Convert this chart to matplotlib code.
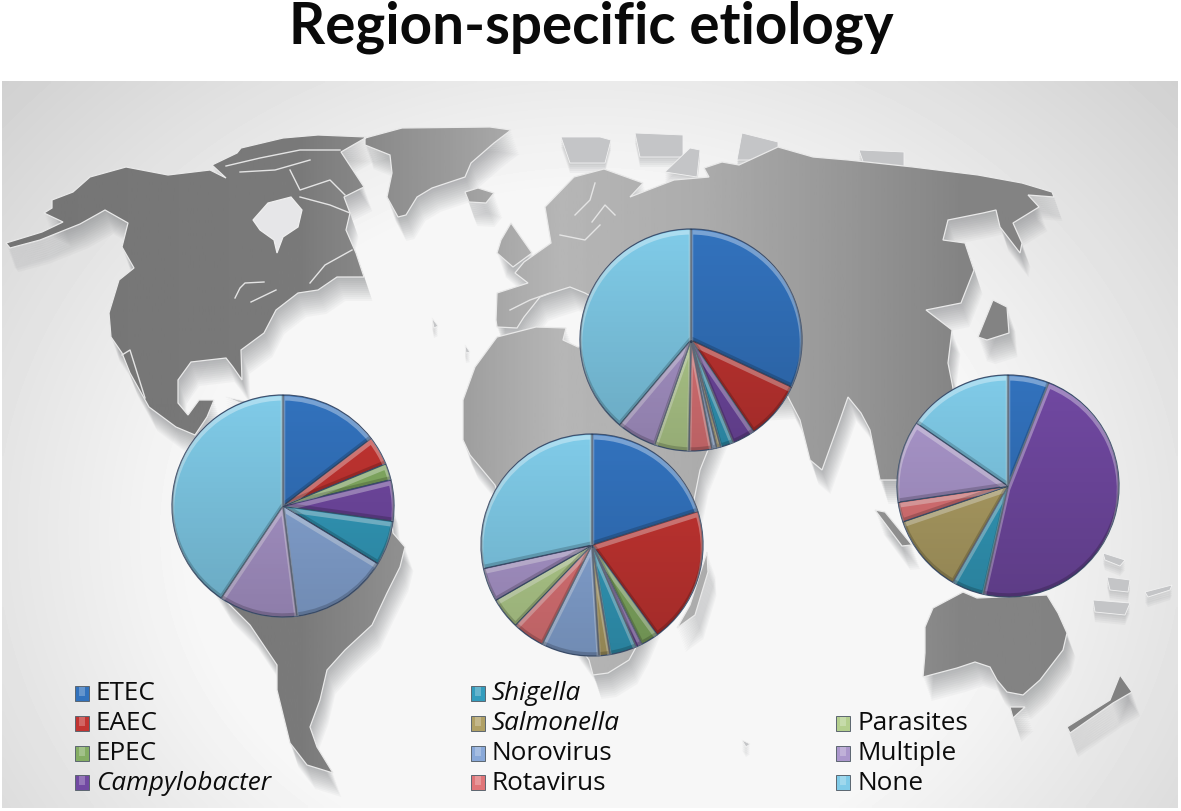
import numpy as np
import matplotlib
matplotlib.use("Agg")
import matplotlib.pyplot as plt
from matplotlib.patches import Wedge, Polygon, Rectangle, Circle, PathPatch
from matplotlib.path import Path

W, H = 1181, 811

categories = ["ETEC", "EAEC", "EPEC", "Campylobacter", "Shigella", "Salmonella",
              "Norovirus", "Rotavirus", "Parasites", "Multiple", "None"]
italic_names = ["Campylobacter", "Shigella", "Salmonella"]
colors = ["#3272bd", "#c23431", "#84ad63", "#7149a2", "#339cbd", "#b0a065",
          "#88a8d8", "#e07578", "#b4cf8e", "#ab97cc", "#80cbe8"]

# percent per region
latin_america = [14.6, 4.2, 2.4, 6.0, 6.5, 0, 14.3, 0, 0, 11.4, 40.6]
africa = [20.1, 19.9, 2.6, 0.9, 3.9, 1.6, 8.4, 4.7, 4.6, 4.9, 28.4]
south_asia = [31.9, 8.5, 0, 3.3, 1.9, 0.6, 0.7, 3.3, 5.0, 5.8, 38.8]
se_asia = [6.0, 0, 0, 47.5, 4.7, 11.5, 0, 2.9, 0, 11.9, 15.4]

pie_values = [latin_america, africa, south_asia, se_asia]
pie_centers = [(283, 506), (592, 545), (691, 340), (1008, 486)]
pie_radius = 111

# legend layout: name -> marker x, row y
legend_col_x = {"ETEC": 75, "EAEC": 75, "EPEC": 75, "Campylobacter": 75,
                "Shigella": 471, "Salmonella": 471, "Norovirus": 471, "Rotavirus": 471,
                "Parasites": 836, "Multiple": 836, "None": 836}
legend_row_y = {"ETEC": 693, "EAEC": 723, "EPEC": 753, "Campylobacter": 782,
                "Shigella": 693, "Salmonella": 723, "Norovirus": 753, "Rotavirus": 782,
                "Parasites": 723, "Multiple": 753, "None": 782}

# backdrop map outlines, in picture pixels
north_america = [(6,243),(42,232),(63,222),(44,213),(52,208),(52,200),(73,192),(90,177),(126,167),
    (168,175),(210,170),(226,178),(212,165),(237,153),(241,148),(283,138),(318,135),(367,137),
    (341,152),(364,187),(344,197),(350,213),(346,230),(356,253),(364,277),(337,277),(318,290),
    (298,293),(276,310),(264,333),(241,350),(242,380),(233,367),(226,358),(191,362),(178,380),
    (178,403),(188,415),(199,400),(214,400),(207,417),(195,435),(176,427),(149,407),(130,373),
    (122,353),(111,337),(109,313),(119,280),(134,268),(122,247),(128,223),(105,210),(80,224),(40,240),(10,248)]
south_america = [(200,440),(300,400),(390,500),(393,533),(405,547),(400,567),(387,593),(372,625),
    (345,650),(327,670),(320,700),(310,727),(317,747),(333,773),(307,765),(290,743),(277,690),
    (277,665),(250,625),(225,600),(200,560)]
greenland = [(365,138),(402,128),(490,127),(511,130),(494,143),(471,163),(465,177),(432,188),
    (417,197),(406,215),(398,217),(387,197),(392,173),(390,155),(365,145)]
iceland = [(465,192),(478,188),(494,193),(486,203),(469,202)]
britain = [(497,253),(501,240),(511,223),(532,253),(513,267)]
eurasia = [(496,320),(497,293),(528,283),(515,273),(524,262),(551,243),(545,207),(574,177),(604,169),
    (643,183),(630,197),(674,180),(709,177),(704,168),(722,162),(739,165),(778,147),(813,157),
    (848,160),(913,167),(978,175),(1022,183),(1052,192),(1054,197),(1028,195),(1039,207),(1013,223),
    (1022,243),(1020,253),(1000,227),(996,210),(983,213),(948,220),(943,240),(965,243),(974,270),
    (961,303),(926,310),(952,330),(948,363),(952,383),(970,480),(880,480),(870,430),(861,413),
    (848,397),(840,420),(822,470),(810,460),(800,420),(787,395),(700,400),(650,330),(585,293),
    (570,287),(551,293),(540,297),(524,317),(517,328),(497,327)]
africa_land = [(475,367),(497,337),(536,327),(566,328),(563,340),(578,347),(620,340),(690,380),
    (720,420),(700,470),(690,520),(640,640),(629,660),(608,673),(593,675),(589,660),(560,620),
    (520,560),(495,485),(470,455),(463,440),(463,400)]
madagascar = [(677,628),(690,605),(707,552),(708,572),(695,615)]
japan = [(1007,307),(1009,333),(987,340),(978,337),(993,300)]
sumatra = [(875,510),(885,512),(912,545),(902,546)]
australia = [(963,592),(977,598),(1047,595),(1058,613),(1067,633),(1063,650),(1040,680),(1023,695),
    (1007,692),(997,680),(990,667),(975,662),(957,668),(923,677),(925,653),(925,627),(933,608)]
tasmania = [(1010,707),(1025,707),(1013,718)]
new_zealand = [(1120,675),(1132,692),(1113,703),(1070,733),(1067,727),(1110,700)]
land_shapes = [north_america, south_america, greenland, iceland, britain, eurasia,
               africa_land, madagascar, japan, sumatra, australia, tasmania, new_zealand]

hudson_bay = [(253,220),(268,203),(291,197),(302,210),(298,227),(283,237),(277,253),(274,240),(260,230)]
# white coast lines inside the land: lakes, arctic channels, Baltic, Canadian east
coast_lines = [[(235,298),(240,288),(245,283),(264,282)], [(251,302),(276,290)],
    [(226,166),(260,158),(300,150),(340,150)], [(240,172),(275,170),(310,160)],
    [(290,170),(300,190),(330,180),(345,195)], [(300,197),(330,205),(350,213)],
    [(310,283),(325,265),(352,250)], [(575,215),(590,200),(595,183)],
    [(592,222),(605,205),(615,215)], [(560,235),(585,240),(600,225)],
    [(510,310),(530,300),(550,293)], [(122,355),(130,350),(145,398)]]
small_islands = [[(561,137),(600,137),(611,140),(605,163),(570,163)],
    [(635,133),(683,135),(683,157),(640,157)], [(665,172),(690,148),(700,150),(697,177)],
    [(737,160),(742,133),(778,142),(778,160)], [(859,150),(904,152),(904,167),(865,167)],
    [(1103,553),(1125,560),(1120,566),(1105,560)], [(1107,577),(1130,580),(1128,592),(1110,590)],
    [(1093,600),(1130,603),(1125,615),(1095,612)], [(1145,592),(1172,585),(1170,590),(1148,597)],
    [(432,318),(438,326),(434,328)], [(465,345),(470,352),(466,353)], [(742,740),(750,744),(746,747)],
    [(226,397),(249,402),(245,405)]]


def land_path(shapes):
    verts, codes = [], []
    for s in shapes:
        verts += list(s) + [s[0]]
        codes += [Path.MOVETO] + [Path.LINETO] * (len(s) - 1) + [Path.CLOSEPOLY]
    return Path(verts, codes)


plt.rcParams["font.family"] = ["Open Sans", "DejaVu Sans"]
fig = plt.figure(figsize=(W / 100, H / 100), dpi=100, facecolor="white")
bg = fig.add_axes([0, 0, 1, 1])
bg.set_xlim(0, W)
bg.set_ylim(H, 0)
bg.axis("off")

# grey vignette behind the map
xx, yy = np.meshgrid(np.linspace(0, 1, 300), np.linspace(0, 1, 200))
dist = np.sqrt(((xx - 0.5) / 0.62) ** 2 + ((yy - 0.62) / 0.85) ** 2)
shade = np.clip(247 - 32 * np.clip(dist - 0.55, 0, None) / 0.45, 208, 247) / 255
bg.imshow(shade, extent=[2, 1178, 808, 81], cmap="gray", vmin=0, vmax=1,
          aspect="auto", interpolation="bilinear", zorder=0)

# drop shadow, stepping down and away
for k in range(1, 13):
    for s in land_shapes:
        arr = np.array(s, dtype=float)
        bg.add_patch(Polygon(arr + [k * 0.7, k * 2.0], closed=True, fc="#55585c",
                             ec="none", alpha=0.04, zorder=1))
for s in small_islands:
    arr = np.array(s, dtype=float)
    for k in range(1, 6):
        bg.add_patch(Polygon(arr + [0, k * 2.0], closed=True, fc="#55585c", ec="none",
                             alpha=0.05, zorder=1))
    bg.add_patch(Polygon(arr, closed=True, fc="#c4c5c7", ec="#f2f2f2", lw=0.6, zorder=2))

# land: dark in the west, pale over Africa, darker again to the east
land = land_path(land_shapes)
tone_x = np.linspace(0, W, 400)
tone = np.interp(tone_x, [0, 300, 450, 560, 700, 850, 960, 1181],
                 [116, 122, 155, 182, 172, 150, 132, 128]) / 255
land_img = bg.imshow(tone[np.newaxis, :], extent=[0, W, H, 0], cmap="gray", vmin=0, vmax=1,
                     aspect="auto", zorder=3)
clip = PathPatch(land, transform=bg.transData, fc="none", ec="none")
bg.add_patch(clip)
land_img.set_clip_path(clip)
bg.add_patch(PathPatch(land, fc="none", ec="#e9e9e9", lw=0.9, zorder=4))
bg.add_patch(Polygon(hudson_bay, closed=True, fc="#e6e6e8", ec="#efefef", lw=0.9, zorder=4))
for line in coast_lines:
    bg.plot(*zip(*line), color="#e4e4e4", lw=1.0, zorder=4)
bg.set_xlim(0, W)
bg.set_ylim(H, 0)

bg.text(591, 27, "Region-specific etiology", ha="center", va="center", fontsize=40.7,
        fontweight="bold", family=["Lato", "DejaVu Sans"], color="#0a0a0a")

# legend, built from the same names and colours as the pies
for name, col in zip(categories, colors):
    x, y = legend_col_x[name], legend_row_y[name]
    bg.add_patch(Rectangle((x, y - 7), 14, 15, fc=col, ec="#5c6670", lw=0.7, zorder=5))
    bg.add_patch(Rectangle((x + 4, y - 6), 6, 9, fc="white", ec="none", alpha=0.25, zorder=6))
    bg.text(x + 21, y + 1, name, ha="left", va="center", fontsize=18.8, color="#0c0c0c",
            style="italic" if name in italic_names else "normal", zorder=6)

# pies
m = 1.04
for vals, (cx, cy) in zip(pie_values, pie_centers):
    size = 2 * pie_radius * m
    ax = fig.add_axes([(cx - size / 2) / W, 1 - (cy + size / 2) / H, size / W, size / H])
    ax.patch.set_alpha(0)
    keep = [i for i, v in enumerate(vals) if v > 0]
    wedges, _ = ax.pie([vals[i] for i in keep], colors=[colors[i] for i in keep],
                       startangle=90, counterclock=False, radius=1,
                       wedgeprops={"edgecolor": "#3f5270", "linewidth": 0.9})
    # soft bevel on each slice: light from above, dark below
    for w in wedges:
        lit = Wedge((0, -0.03), 1, w.theta1, w.theta2, fc="none", ec="white", lw=3.2, alpha=0.35)
        ax.add_patch(lit)
        lit.set_clip_path(w)
        dark = Wedge((0, 0.02), 1, w.theta1, w.theta2, fc="none", ec="black", lw=2.2, alpha=0.18)
        ax.add_patch(dark)
        dark.set_clip_path(w)
    grad = np.zeros((100, 1, 4))
    grad[:, 0, 3] = np.linspace(0, 0.17, 100)
    over = ax.imshow(grad, extent=[-1, 1, -1, 1], aspect="auto", zorder=5)
    circ = Circle((0, 0), 1, transform=ax.transData, fc="none", ec="none")
    ax.add_patch(circ)
    over.set_clip_path(circ)
    ax.set_aspect("equal")
    ax.set_xlim(-m, m)
    ax.set_ylim(-m, m)
    ax.axis("off")

fig.savefig("out.png", dpi=100)
